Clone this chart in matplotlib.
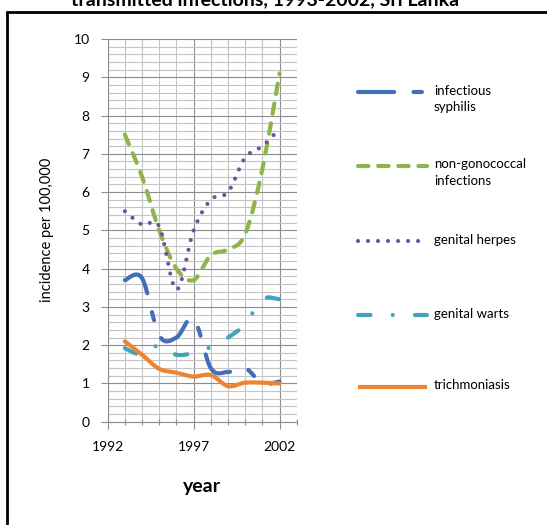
import matplotlib

matplotlib.use("Agg")
import matplotlib.pyplot as plt
from matplotlib.patches import PathPatch, Rectangle
from matplotlib.path import Path
from matplotlib.ticker import MultipleLocator, FixedLocator
from matplotlib.lines import Line2D

plt.rcParams["font.family"] = ["Lato", "DejaVu Sans"]
plt.rcParams["lines.scale_dashes"] = False

# data (incidence per 100,000)
years = [1993, 1994, 1995, 1996, 1997, 1998, 1999, 2000, 2001, 2002]
syphilis = [3.7, 3.75, 2.25, 2.2, 2.7, 1.4, 1.3, 1.4, 1.0, 1.05]
non_gonococcal = [7.5, 6.4, 5.0, 4.0, 3.7, 4.35, 4.5, 4.9, 6.6, 9.1]
herpes = [5.5, 5.15, 5.1, 3.45, 5.0, 5.8, 6.0, 6.9, 7.2, 7.65]
warts = [1.92, 1.75, 2.0, 1.75, 1.8, 1.95, 2.2, 2.55, 3.2, 3.2]
trichomoniasis = [2.1, 1.75, 1.38, 1.28, 1.18, 1.22, 0.93, 1.02, 1.02, 1.0]

x_major = [1992, 1997, 2002]
labels = ["infectious\nsyphilis", "non-gonococcal\ninfections", "genital herpes",
          "genital warts", "trichmoniasis"]
series = [syphilis, non_gonococcal, herpes, warts, trichomoniasis]
colors = ["#4170B8", "#8DB54A", "#7050A0", "#45A2BC", "#EC8433"]
dashes = [
    (0, (26, 14, 6, 14)),
    (0, (7.5, 7)),
    (0, (0.01, 7.2)),
    (0, (9, 16, 0.01, 16)),
    "solid",
]
LW = 3.0


def smooth_path(xs, ys):
    # Excel-like smoothed line: Catmull-Rom segments as cubic beziers
    pts = list(zip(xs, ys))
    verts = [pts[0]]
    codes = [Path.MOVETO]
    n = len(pts)
    for i in range(n - 1):
        p0 = pts[i - 1] if i > 0 else pts[i]
        p1 = pts[i]
        p2 = pts[i + 1]
        p3 = pts[i + 2] if i + 2 < n else pts[i + 1]
        c1 = (p1[0] + (p2[0] - p0[0]) / 6, p1[1] + (p2[1] - p0[1]) / 6)
        c2 = (p2[0] - (p3[0] - p1[0]) / 6, p2[1] - (p3[1] - p1[1]) / 6)
        verts += [c1, c2, p2]
        codes += [Path.CURVE4] * 3
    return Path(verts, codes)


fig = plt.figure(figsize=(5.47, 5.25), dpi=100)

# outer frame (cropped at right/bottom like the source)
fig.patches.append(Rectangle((7.2 / 547, -0.2), 1.2, 1.2 - 11.5 / 525,
                             transform=fig.transFigure, fill=False,
                             edgecolor="black", linewidth=2.0))
fig.text(0.485, 1 - 5.5 / 525, "transmitted infections, 1993-2002, Sri Lanka",
         ha="center", va="baseline", fontsize=14, fontweight="bold")

ax = fig.add_axes([107.7 / 547, 1 - 421.7 / 525, 189 / 547, 382.7 / 525])
ax.set_xlim(1992, 2003)
ax.set_ylim(0, 10)

ax.xaxis.set_major_locator(FixedLocator(x_major))
ax.xaxis.set_minor_locator(MultipleLocator(1))
ax.yaxis.set_major_locator(MultipleLocator(1))
ax.yaxis.set_minor_locator(MultipleLocator(0.2))
ax.grid(which="minor", color="#c4c4c4", linewidth=0.8)
ax.grid(which="major", color="#8c8c8c", linewidth=0.8)
ax.set_axisbelow(True)
for side in ["top", "right"]:
    ax.spines[side].set_visible(False)
for side in ["left", "bottom"]:
    ax.spines[side].set_color("#8c8c8c")
    ax.spines[side].set_linewidth(0.8)
ax.tick_params(which="major", direction="out", length=5, width=0.8, color="#8c8c8c",
               labelsize=10, pad=8)
ax.tick_params(axis="x", which="minor", direction="inout", length=4, width=0.8,
               color="#8c8c8c")
ax.tick_params(axis="y", which="minor", length=0)
ax.tick_params(axis="x", which="major", pad=9)

for vals, color, ls in zip(series, colors, dashes):
    patch = PathPatch(smooth_path(years, vals), fill=False, edgecolor=color,
                      linewidth=LW, linestyle=ls, capstyle="round", joinstyle="round")
    ax.add_patch(patch)

ax.set_xlabel("year", fontsize=14, fontweight="bold", labelpad=18)
ax.set_ylabel("incidence per 100,000", fontsize=10.5, labelpad=14)

# legend drawn by hand so the sample lines sit on the first text line
leg = fig.add_axes([0, 0, 1, 1], facecolor="none")
leg.set_xlim(0, 547)
leg.set_ylim(525, 0)
leg.axis("off")
leg_y = [92.3, 166, 241, 315, 386.7]
for label, color, ls, y in zip(labels, colors, dashes, leg_y):
    leg.add_line(Line2D([358, 427], [y, y], color=color, linewidth=LW, linestyle=ls,
                        dash_capstyle="round", solid_capstyle="butt"))
    leg.text(434, y - 7.5, label, ha="left", va="top", fontsize=9.5, linespacing=1.45)

fig.savefig("out.png", dpi=100)
